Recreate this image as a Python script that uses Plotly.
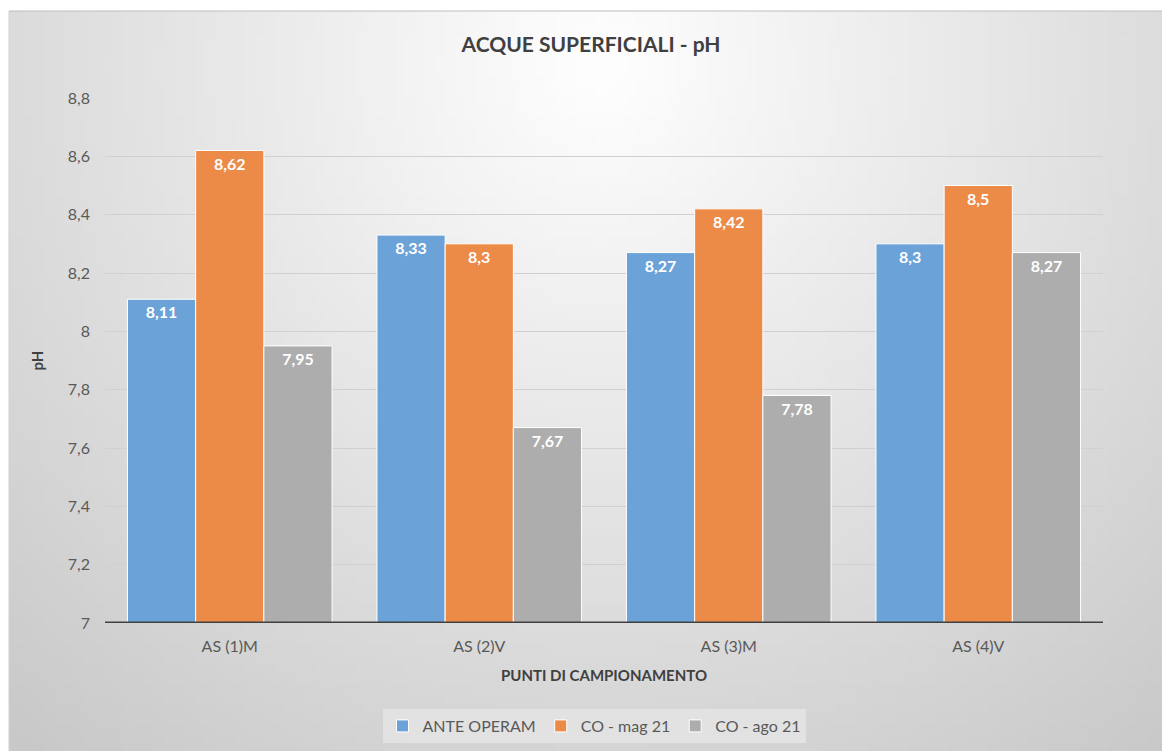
import base64
import struct
import zlib
import numpy as np
import plotly.graph_objects as go

# ---------------- data ----------------
categories = ["AS (1)M", "AS (2)V", "AS (3)M", "AS (4)V"]
series_names = ["ANTE OPERAM", "CO - mag 21", "CO - ago 21"]
ante_operam = [8.11, 8.33, 8.27, 8.30]
co_mag21 = [8.62, 8.30, 8.42, 8.50]
co_ago21 = [7.95, 7.67, 7.78, 8.27]
y_ticks = [7, 7.2, 7.4, 7.6, 7.8, 8, 8.2, 8.4, 8.6, 8.8]

colors = ["#6BA3D9", "#EC8A48", "#ADADAD"]
FONT = "Lato"

# page offset (body margin of the html page)
OFF = 8
W, H = 1170, 751

# target positions in screenshot pixels, converted to figure pixels
box_x0, box_y0, box_x1, box_y1 = 9 - OFF, 11 - OFF, 1175, 760
ml = 105 - OFF
mt = 98 - OFF
mr = W - (1103 - OFF)
mb = H - (623 - OFF)
pw, ph = W - ml - mr, H - mt - mb

# ---------------- gradient background (PNG) ----------------
iw, ih = 117, 76
xs = np.linspace(box_x0 + OFF, box_x1 + OFF, iw)
ys = np.linspace(box_y0 + OFF, box_y1 + OFF, ih)
X, Y = np.meshgrid(xs, ys)
cx, cy = 600, 60
d = np.sqrt((X - cx) ** 2 + (Y - cy) ** 2)
val = 255 - 0.06 * d
val = np.clip(val, 196, 253).astype(np.uint8)


def png_gray(arr):
    h, w = arr.shape
    raw = b"".join(b"\x00" + arr[r].tobytes() for r in range(h))

    def chunk(tag, data):
        c = struct.pack(">I", len(data)) + tag + data
        return c + struct.pack(">I", zlib.crc32(tag + data) & 0xFFFFFFFF)

    return (b"\x89PNG\r\n\x1a\n"
            + chunk(b"IHDR", struct.pack(">IIBBBBB", w, h, 8, 0, 0, 0, 0))
            + chunk(b"IDAT", zlib.compress(raw, 9))
            + chunk(b"IEND", b""))


img_uri = "data:image/png;base64," + base64.b64encode(png_gray(val)).decode()


def px2paper_x(px):
    return (px - ml) / pw


def px2paper_y(py):
    return (H - mb - py) / ph


# ---------------- figure ----------------
fig = go.Figure()
for name, vals, col in zip(series_names, [ante_operam, co_mag21, co_ago21], colors):
    fig.add_trace(go.Bar(
        name=name, x=categories, y=vals,
        marker=dict(color=col, line=dict(color="#FFFFFF", width=1)),
        text=[f"{v:g}".replace(".", ",") for v in vals],
        textposition="inside", insidetextanchor="end",
        textfont=dict(family=FONT, size=16, color="#FFFFFF", weight="bold"),
        textangle=0,
        cliponaxis=False,
    ))

fig.update_layout(
    width=W, height=H,
    separators=",.",
    barmode="group", bargap=0.18, bargroupgap=0.0,
    paper_bgcolor="#FFFFFF", plot_bgcolor="rgba(0,0,0,0)",
    margin=dict(l=ml, r=mr, t=mt, b=mb, pad=0),
    font=dict(family=FONT, color="#595959", size=15),
    title=dict(text="<b>ACQUE SUPERFICIALI - pH</b>", x=px2paper_x(591 - OFF), xref="paper",
               xanchor="center",
               y=1 - (45 - OFF) / H, yanchor="middle",
               font=dict(family=FONT, size=21, color="#404040")),
    xaxis=dict(
        title=dict(text="<b>PUNTI DI CAMPIONAMENTO</b>", standoff=16,
                   font=dict(family=FONT, size=15, color="#404040")),
        tickfont=dict(family=FONT, size=16, color="#595959"),
        showgrid=False, showline=False, ticks="", ticklabelstandoff=12,
    ),
    yaxis=dict(
        title=dict(text="<b>pH</b>", standoff=20,
                   font=dict(family=FONT, size=15, color="#404040")),
        range=[7, 8.8], tickvals=y_ticks,
        tickfont=dict(family=FONT, size=16, color="#595959"),
        showgrid=True, gridcolor="#D0D0D0", gridwidth=1,
        zeroline=False, showline=False, ticks="", ticklabelstandoff=14,
    ),
    legend=dict(
        orientation="h", x=px2paper_x(594 - OFF), xanchor="center",
        y=px2paper_y(726 - OFF), yanchor="middle",
        bgcolor="rgba(228,228,228,0.85)", font=dict(family=FONT, size=16, color="#595959"),
        itemwidth=30, traceorder="normal",
    ),
    images=[dict(
        source=img_uri, xref="paper", yref="paper",
        x=px2paper_x(box_x0), y=px2paper_y(box_y0),
        sizex=(box_x1 - box_x0) / pw, sizey=(box_y1 - box_y0) / ph,
        xanchor="left", yanchor="top", sizing="stretch", layer="below",
    )],
    shapes=[
        dict(type="line", xref="paper", yref="y", x0=0, x1=1, y0=7, y1=7,
             line=dict(color="#404040", width=3), layer="above"),
        dict(type="line", xref="paper", yref="paper",
             x0=px2paper_x(box_x0), x1=px2paper_x(box_x1),
             y0=px2paper_y(box_y0), y1=px2paper_y(box_y0),
             line=dict(color="#BDBDBD", width=1)),
        dict(type="line", xref="paper", yref="paper",
             x0=px2paper_x(box_x0), x1=px2paper_x(box_x0),
             y0=px2paper_y(box_y0), y1=px2paper_y(box_y1),
             line=dict(color="#CFCFCF", width=1)),
    ],
)

fig.write_html("out.html")
